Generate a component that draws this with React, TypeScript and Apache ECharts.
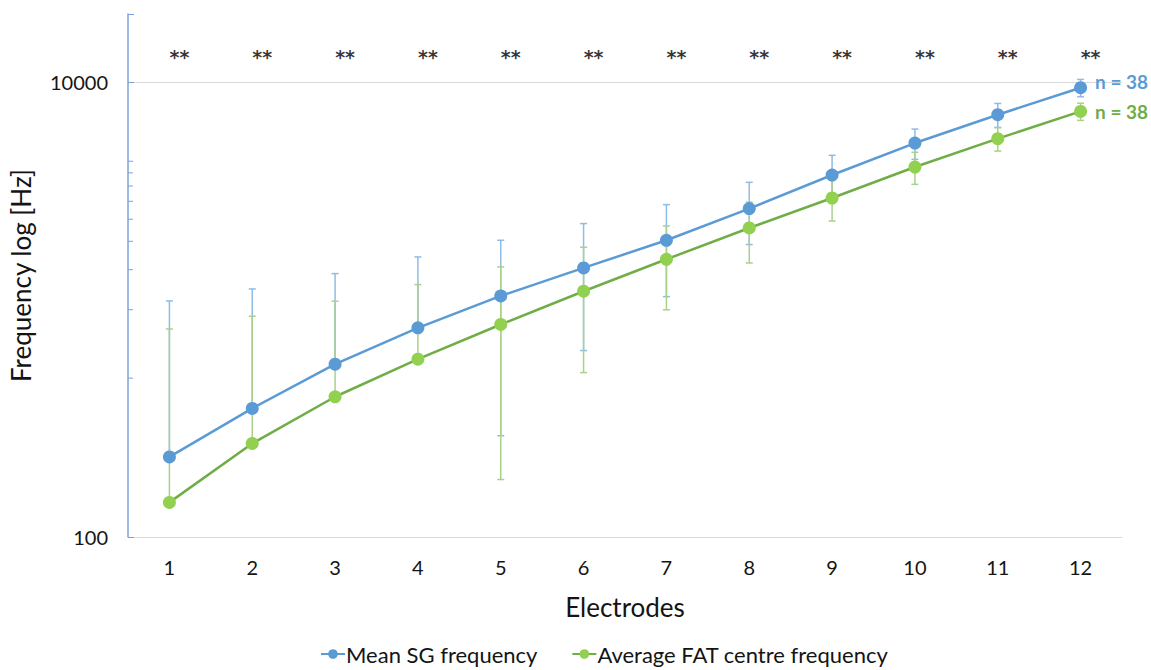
import React, { useEffect, useRef } from "react";
import * as echarts from "echarts";

const categories = ["1", "2", "3", "4", "5", "6", "7", "8", "9", "10", "11", "12"];
const meanSG = [225, 368, 576, 832, 1150, 1527, 2021, 2785, 3914, 5411, 7211, 9477];
const sdSG = [868, 866, 866, 875, 871, 866, 879, 850, 863, 823, 872, 832];
const fatCentre = [142, 258, 414, 606, 861, 1206, 1667, 2289, 3101, 4244, 5656, 7455];
const sdFAT = [681, 678, 676, 684, 682, 677, 668, 683, 644, 683, 667, 647];
const significance = ["**", "**", "**", "**", "**", "**", "**", "**", "**", "**", "**", "**"];
const significanceLevel = 13000;
const majorTickLabels = [100, 10000];
const minorTicks = [500, 1000, 1500, 2000, 2500, 3000, 3500, 4000, 4500];
const nLabels = ["n = 38", "n = 38"];
const seriesNames = ["Mean SG frequency", "Average FAT centre frequency"];

const FONT = "Lato, 'Open Sans', sans-serif";
const BLUE = "#5B9BD5";
const BLUE_ERR = "#8FBCE6";
const GREEN_LINE = "#70AD47";
const GREEN_MARK = "#92D050";
const GREEN_ERR = "#A9D18E";
const AXIS_BLUE = "#7AA3DC";
const TEXT = "#141414";

function errorBarSeries(name: string, means: number[], sds: number[], color: string, z: number) {
  return {
    type: "custom",
    name: name + " error",
    z,
    silent: true,
    encode: { x: 0, y: 1 },
    data: means.map((m, i) => [i, m, sds[i]]),
    renderItem: (params: any, api: any) => {
      const i = api.value(0);
      const mean = api.value(1);
      const sd = api.value(2);
      const hi = mean + sd;
      const lo = mean - sd;
      const pTop = api.coord([i, hi]);
      const pMid = api.coord([i, mean]);
      const pBot = lo > 0 ? api.coord([i, lo]) : pMid;
      const style = { stroke: color, lineWidth: 1.5 };
      const children: any[] = [
        { type: "line", shape: { x1: pTop[0], y1: pTop[1], x2: pBot[0], y2: pBot[1] }, style },
        { type: "line", shape: { x1: pTop[0] - 3.5, y1: pTop[1], x2: pTop[0] + 3.5, y2: pTop[1] }, style },
      ];
      if (lo > 0) {
        children.push({ type: "line", shape: { x1: pBot[0] - 3.5, y1: pBot[1], x2: pBot[0] + 3.5, y2: pBot[1] }, style });
      }
      return { type: "group", children };
    },
  };
}

export default function App() {
  const ref = useRef<HTMLDivElement>(null);
  useEffect(() => {
    if (!ref.current) return;
    const chart = echarts.init(ref.current, undefined, { renderer: "svg" });
    const lastIdx = categories.length - 1;
    const option: any = {
      animation: false,
      backgroundColor: "#ffffff",
      textStyle: { fontFamily: FONT },
      grid: { left: 127, right: 29, top: 14, bottom: 133, containLabel: false },
      legend: {
        left: 318,
        top: 641,
        itemGap: 34,
        itemWidth: 24,
        itemHeight: 12,
        padding: 2,
        textStyle: { fontFamily: FONT, fontSize: 22, color: TEXT, padding: [0, 0, 0, -4] },
        data: seriesNames,
      },
      xAxis: {
        type: "category",
        data: categories,
        boundaryGap: true,
        name: "Electrodes",
        nameLocation: "middle",
        nameGap: 57,
        nameTextStyle: { fontFamily: FONT, fontSize: 26, color: TEXT },
        axisLine: { show: true, lineStyle: { color: "#d9d9d9", width: 1 } },
        axisTick: { show: false },
        axisLabel: { fontFamily: FONT, fontSize: 20, color: TEXT, margin: 20 },
        splitLine: { show: false },
      },
      yAxis: {
        type: "log",
        logBase: 10,
        min: 100,
        max: 20000,
        interval: 2,
        name: "Frequency log [Hz]",
        nameLocation: "middle",
        nameGap: 94,
        nameTextStyle: { fontFamily: FONT, fontSize: 26, color: TEXT },
        axisLine: { show: true, lineStyle: { color: AXIS_BLUE, width: 1.5 } },
        axisTick: { show: true, inside: true, length: 6, lineStyle: { color: AXIS_BLUE } },
        axisLabel: {
          fontFamily: FONT,
          fontSize: 20,
          color: TEXT,
          margin: 20,
          formatter: (v: number) => (majorTickLabels.some((t) => Math.abs(t - v) < 1e-6) ? String(v) : ""),
        },
        splitLine: { show: false },
      },
      series: [
        {
          type: "custom",
          name: "minor ticks",
          z: 1,
          silent: true,
          encode: { x: 0, y: 1 },
          data: minorTicks.map((v) => [0, v]),
          renderItem: (params: any, api: any) => {
            const p = api.coord([0, api.value(1)]);
            const x = params.coordSys.x;
            return {
              type: "line",
              shape: { x1: x, y1: p[1], x2: x + 5, y2: p[1] },
              style: { stroke: AXIS_BLUE, lineWidth: 1 },
            };
          },
        },
        errorBarSeries(seriesNames[0], meanSG, sdSG, BLUE_ERR, 2),
        errorBarSeries(seriesNames[1], fatCentre, sdFAT, GREEN_ERR, 3),
        {
          type: "line",
          name: seriesNames[0],
          z: 5,
          data: meanSG.map((v, i) =>
            i === lastIdx
              ? {
                  value: v,
                  label: {
                    show: true,
                    position: "right",
                    distance: 8,
                    offset: [0, -6],
                    formatter: nLabels[0],
                    fontFamily: FONT,
                    fontWeight: "bold",
                    fontSize: 19,
                    color: BLUE,
                  },
                }
              : v
          ),
          symbol: "circle",
          symbolSize: 13,
          lineStyle: { color: BLUE, width: 2.5 },
          itemStyle: { color: BLUE },
          markLine: {
            silent: true,
            symbol: "none",
            label: { show: false },
            lineStyle: { color: "#d9d9d9", type: "solid", width: 1 },
            data: [{ yAxis: majorTickLabels[1] }],
            z: 0,
          },
        },
        {
          type: "line",
          name: seriesNames[1],
          z: 6,
          data: fatCentre.map((v, i) =>
            i === lastIdx
              ? {
                  value: v,
                  label: {
                    show: true,
                    position: "right",
                    distance: 8,
                    formatter: nLabels[1],
                    fontFamily: FONT,
                    fontWeight: "bold",
                    fontSize: 19,
                    color: GREEN_LINE,
                  },
                }
              : v
          ),
          symbol: "circle",
          symbolSize: 13,
          lineStyle: { color: GREEN_LINE, width: 2.5 },
          itemStyle: { color: GREEN_MARK },
        },
        {
          type: "scatter",
          name: "significance",
          z: 7,
          silent: true,
          symbolSize: 0,
          data: significance.map((s, i) => [i, significanceLevel, s]),
          label: {
            show: true,
            position: "inside",
            offset: [10, 0],
            formatter: (p: any) => p.value[2],
            fontFamily: "'DejaVu Sans', sans-serif",
            fontWeight: "bold",
            fontSize: 19,
            color: "#000000",
          },
        },
      ],
    };
    chart.setOption(option);
    return () => chart.dispose();
  }, []);
  return (
    <div
      ref={ref}
      style={{ position: "fixed", left: 0, top: 0, width: 1151, height: 670 }}
    />
  );
}
